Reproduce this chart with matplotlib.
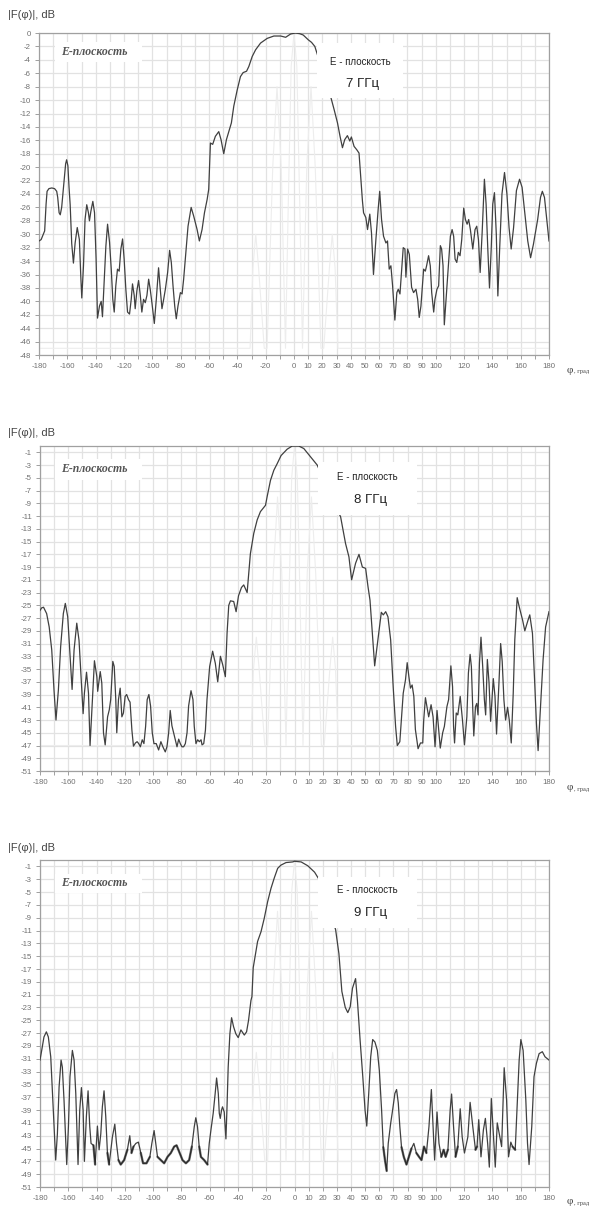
import matplotlib.pyplot as plt
import numpy as np
from matplotlib.patches import Rectangle

W, H = 591, 1207

# ---- measured pattern, 7 GHz
PHI_7 = [-180, -178.5, -177, -176, -175, -174.3, -173, -171, -169, -167.5, -166.8, -165.8, -165,
         -164, -162.5, -161.2, -160.5, -159.6, -158.8, -158, -156.9, -155.7, -154.5, -153, -151.5,
         -150.5, -149.8, -148.6, -147.5, -146.3, -145.1, -144.4, -143.4, -142, -140.8, -139.7,
         -138.7, -137.3, -136.1, -135.2, -134, -132.8, -131.6, -130.2, -129, -127.9, -126.9,
         -125.8, -124.6, -123.4, -122.2, -121, -119.9, -118.7, -117.5, -116.1, -114.9, -114,
         -112.8, -112.1, -110.9, -109.7, -108.5, -107.4, -106.2, -105, -103.8, -102.6, -101.5,
         -100.3, -98.6, -97.2, -95.6, -94.4, -93.2, -92, -90.8, -89.2, -87.8, -86.6, -85.4, -84.2,
         -83.1, -81.9, -80.2, -79, -77.9, -76.7, -74.8, -72.6, -70.8, -68.4, -66.8, -64.9, -63.2,
         -61.3, -60.2, -59, -57.4, -55.5, -53.1, -51.5, -49.6, -47.7, -46, -44.2, -42.5, -40.1,
         -37.8, -35.9, -33.5, -31.9, -29.5, -27.1, -23.6, -18.9, -14.2, -9.4, -5.9, -2.4, 1, 4,
         6.5, 10, 12.4, 14.7, 15.9, 20, 23, 25.9, 28.3, 30.7, 32.5, 34.2, 35.8, 37.7, 39.4, 40.5,
         42.4, 44.3, 45.9, 48.3, 49.1, 50.7, 51.9, 53.5, 54.7, 56.1, 57.8, 59.4, 60.5, 61.8, 63.2,
         64.9, 66, 67.2, 68.4, 69.6, 71.2, 72.6, 73.6, 74.8, 75.9, 77.1, 78.3, 79, 80.2, 81.4, 83,
         84.4, 86.1, 87.3, 88.4, 89.6, 91.5, 92.7, 93.6, 95, 96.2, 97.2, 98.6, 99.5, 100.9, 102.1,
         103.3, 104.2, 105.2, 106.1, 107.8, 109, 110.4, 111.6, 112.7, 113.7, 114.9, 116, 117.2,
         118.4, 119.8, 121, 122.2, 123.3, 124.5, 126.2, 127.8, 129, 130.2, 131.4, 132.8, 134.4,
         135.6, 136.8, 138, 139.2, 140.3, 141.5, 142.8, 143.9, 145.2, 146.8, 148.6, 150.3, 151.8,
         153.3, 155, 157, 159.2, 161, 163, 165, 167, 169, 172, 174, 175.3, 176.8, 178.5, 180]
DB_7 = [-31.0, -30.8, -30.0, -29.5, -25.5, -23.6, -23.2, -23.1, -23.2, -23.6, -24.5, -26.8, -27.1,
        -26.0, -22.5, -19.5, -18.9, -19.8, -23.0, -25.6, -31.4, -34.3, -31.3, -29.0, -30.8,
        -36.3, -39.5, -34.7, -27.8, -25.6, -26.8, -28.0, -26.6, -25.1, -26.8, -33.7,
        -42.5, -40.7, -40.0, -42.3, -37.2, -31.8, -28.5, -31.2, -35.2, -39.7, -41.6,
        -37.7, -35.2, -35.5, -32.2, -30.7, -33.7, -38.2, -41.6, -41.9, -39.7, -37.4,
        -39.1, -41.1, -38.4, -36.9, -39.1, -41.6, -39.7, -40.2, -39.1, -36.7, -38.2,
        -40.2, -43.3, -39.7, -35.0, -38.2, -41.1, -39.7, -38.2, -35.7, -32.4, -34.2, -37.7, -40.7,
        -42.6, -40.7, -38.7, -38.9, -36.7, -33.7, -28.8, -26.0, -27.3, -29.3, -31.0, -29.3, -26.8,
        -24.8, -23.3, -16.4, -16.6, -15.4, -14.7, -15.9, -18.0, -15.9, -14.7, -13.4, -10.9, -8.5,
        -6.5, -5.9, -5.7, -5.0, -3.5, -2.5, -1.5, -0.8, -0.45, -0.45, -0.64, -0.15, 0.0, -0.1,
        -0.3, -1.0, -1.4, -2.0, -2.8, -5.5, -7.5, -9.5, -11.4, -13.4, -15.4, -17.1, -15.9, -15.3, -16.1, -15.5,
        -16.9, -17.4, -17.9, -25.0, -26.8, -27.5, -29.3, -27.0, -29.8, -36.0, -30.8, -26.3, -23.6, -27.8, -30.3,
        -31.3, -31.0, -35.2, -34.7, -37.7, -42.8, -38.7, -38.2, -38.9, -35.7, -32.0, -32.2, -36.4, -32.2, -33.0, -37.9,
        -38.7, -38.2, -39.7, -42.4, -40.7, -35.2, -35.5, -34.7, -33.2, -34.7, -38.7, -41.6, -39.7, -38.2, -37.7,
        -31.7, -32.2, -34.7, -43.5, -38.2, -34.7, -30.3, -29.3, -30.3, -33.7, -34.2, -32.7, -33.2,
        -30.8, -26.1, -27.8, -28.5, -27.8, -29.3, -32.2, -29.3, -28.8, -30.8, -35.7, -29.8, -21.8,
        -25.5, -32.2, -38.0, -32.2, -25.5, -23.8, -30.0, -39.2, -32.0, -24.0, -20.8, -24.0, -29.0,
        -32.2, -29.0, -23.5, -21.8, -23.0, -27.0, -31.0, -33.5, -31.5, -27.8, -24.5, -23.6, -24.5, -28.0, -31.0]

# ---- measured pattern, 8 GHz
PHI_8 = [-180, -178.8, -177.5, -175.3, -173.5, -171.7, -170.1, -168.7, -167, -165.4, -163.5, -162.1,
         -160.4, -159, -157.3, -155.9, -154, -152.4, -150.7, -149.5, -148.6, -147.1, -145.7, -144.6,
         -142.9, -141.5, -139.8, -139.2, -137.4, -136.3, -135.1, -133.9, -132.2, -131, -130, -128.5,
         -127.5, -126.4, -125.7, -124.5, -123.3, -122.1, -121, -119.8, -118.7, -117.4, -116.3, -115,
         -113.9, -112.5, -111.3, -110.2, -109, -107.7, -106.5, -105.3, -104.2, -103, -101.8, -100.6,
         -99.4, -97.8, -96.1, -94.5, -93.1, -91.4, -90.2, -89, -87.9, -86.7, -85.5, -84.3, -83.1,
         -81.9, -80.8, -79.6, -78.4, -77.2, -76, -74.9, -73.2, -71.8, -70.9, -69.7, -68.5, -67.3,
         -66.1, -65.4, -64.2, -63, -61.9, -60, -57.9, -56, -54.3, -52.4, -50.8, -48.9, -47.7, -46.5,
         -45.3, -43, -41.3, -39.6, -37.5, -35.9, -33.5, -31.2, -28.8, -26.4, -24.1, -20.5, -19.4,
         -17, -14.6, -12.3, -9.5, -5.2, -1.6, 3, 6.6, 11.3, 16.1, 20, 25, 29, 32.6, 36.1, 38.5, 40.4,
         43.2, 45.6, 48, 50.3, 52, 53.4, 55.1, 56.7, 58.1, 59.8, 61.4, 62.8, 64.5, 66.1, 68, 69.8,
         71.5, 72.7, 74.5, 75.7, 76.9, 78.5, 79.7, 80.9, 82, 83.2, 84.4, 85.5, 87.4, 89.1, 90.7,
         91.4, 92.6, 93.7, 94.9, 96.6, 98, 99.4, 100.8, 102, 103.1, 104.8, 106, 107.8, 109, 110.6,
         111.8, 112.5, 113.2, 114.4, 115.5, 117.2, 118.8, 120.2, 121.9, 123, 124.2, 125.1, 126.1,
         126.8, 128, 128.9, 129.8, 130.8, 131.9, 133.1, 134.3, 135.2, 136.4, 137.6, 138.7, 140.6,
         141.8, 142.9, 144.6, 145.8, 146.9, 148.1, 149.3, 150.7, 151.9, 153.3, 154.7, 155.8, 157.5,
         158.9, 161.3, 162.9, 165.2, 166.4, 168.3, 169.9, 171.1, 172.3, 173.9, 175.8, 177.6, 180]
DB_8 = [-25.8, -25.4, -25.3, -26.3, -28.4, -32.0, -38.3, -43.0, -38.3, -31.5, -26.3, -24.7,
        -26.8, -32.0, -38.2, -32.0, -27.8, -30.5, -37.3, -42.0, -38.8, -35.5, -38.8, -47.0,
        -39.8, -33.7, -36.2, -38.5, -35.4, -37.2, -45.0, -46.9, -42.5, -41.4, -39.8, -33.8,
        -34.6, -39.8, -45.0, -39.8, -38.0, -42.5, -41.9, -39.3, -39.0, -39.8, -40.2, -44.6,
        -47.1, -46.6, -46.4, -46.7, -47.2, -46.1, -46.7, -44.0, -39.8, -39.0, -40.8, -45.0,
        -46.7, -46.7, -47.7, -46.4, -47.2, -48.0, -47.2, -45.0, -41.5, -43.9, -45.0, -46.1, -47.2,
        -46.0, -46.7, -47.2, -47.2, -46.7, -45.0, -40.8, -38.4, -39.8, -44.0, -46.7, -46.1, -46.4,
        -46.1, -46.9, -46.7, -44.6, -39.8, -34.6, -32.2, -34.1, -37.0, -33.0, -34.3, -36.2, -29.4, -25.0,
        -24.3, -24.4, -26.0, -23.5, -22.2, -21.8, -23.0, -16.9, -13.7, -11.6, -10.3, -9.3, -8.0,
        -5.4, -3.8, -2.8, -1.5, -0.5, 0.0, 0.0, -0.4, -1.7, -3.0, -5.0, -7.5, -9.5, -11.1, -15.3, -17.4, -21.0,
        -18.4, -17.0, -19.0, -19.2, -22.1, -24.2, -29.4, -34.5, -32.0, -28.9, -26.1, -26.5, -26.0, -26.8, -30.4, -37.8,
        -44.0, -47.0, -46.4, -42.5, -38.8, -36.7, -34.0, -36.2, -38.0, -37.5, -39.3, -44.5, -47.5, -46.6, -46.6,
        -43.0, -39.5, -40.9, -42.5, -40.6, -42.5, -47.2, -41.5, -44.5, -47.4, -45.0, -44.0, -40.9, -39.8, -34.5,
        -37.8, -44.0, -46.6, -41.9, -42.2, -39.3, -43.0, -46.9, -42.5, -35.6, -32.7, -34.6, -41.4,
        -45.5, -40.9, -40.4, -42.2, -34.1, -30.0, -34.6, -39.8, -42.2, -33.5, -37.2, -43.2, -36.5,
        -39.3, -45.2, -37.2, -31.0, -33.8, -39.8, -43.0, -41.0, -43.0, -46.6, -38.8, -30.4, -23.8,
        -25.2, -27.3, -29.0, -27.3, -26.5, -29.4, -37.2, -43.5, -47.8, -41.4, -33.6, -28.4, -26.0]

# ---- measured pattern, 9 GHz
PHI_9 = [-180, -178.8, -177.2, -175.5, -174.1, -172.4, -171.3, -169.8, -168.9, -167.7, -166.5, -165.1,
         -164.2, -163, -161.8, -161.1, -159.9, -158.8, -157.1, -155.9, -154.7, -153.6, -153.1, -151.9,
         -150.7, -149.5, -148.6, -147.2, -146, -144.8, -143.9, -142.2, -141, -139.4, -138.2, -137,
         -135.9, -134.7, -133.5, -132.3, -131.1, -128.8, -127.1, -125.9, -124.5, -122.9, -120.5,
         -118.2, -116.5, -115.3, -113.9, -112.2, -110.4, -108.7, -107.1, -104.7, -102.3, -100.9,
         -99.3, -98.1, -96.9, -94.5, -92.2, -89.8, -87.5, -85.1, -83.4, -81.6, -79.2, -76.8, -74.5,
         -72.6, -70.9, -69.8, -68.6, -67.4, -66.2, -63.9, -61.5, -60.3, -59.1, -57.5, -56.1, -55.1,
         -53.9, -53.2, -52.5, -51.6, -50.9, -49.7, -48.5, -47.8, -46.9, -45.7, -44.5, -43.1, -41.5,
         -39.8, -37.9, -35.5, -33.9, -32.5, -30.8, -30.1, -29.2, -27.7, -26.1, -23.7, -21.4, -19,
         -16.6, -14.3, -11.9, -9.6, -6, -1.3, 0, 4.7, 9.4, 14.2, 17, 22, 26, 29.1, 31.4, 33.5, 35.9,
         37.7, 39.4, 41, 43.2, 44.5, 46.4, 48.3, 49.9, 51.1, 52.5, 53.9, 55.3, 56.9, 58.6, 60, 61.6,
         62.8, 64, 65.2, 66.3, 68, 69.4, 71, 72.2, 73.4, 74.5, 75.7, 77.3, 79.2, 80.9, 82.7, 84.4,
         86.2, 88.1, 89.8, 91.6, 93.3, 95.1, 96.8, 98, 99.1, 100.8, 102.2, 103.8, 105.5, 106.9,
         108.5, 110.1, 111.1, 112.5, 113.9, 115.5, 117.2, 118.6, 120.2, 122.6, 124.2, 126.1, 128,
         129.1, 130.3, 131.9, 133.6, 135, 136.6, 137.8, 139.2, 140.6, 142, 143.4, 144.8, 146.5,
         148.3, 150, 151.4, 153, 154.2, 156.1, 157.7, 158.9, 160.1, 161.7, 163.6, 164.8, 165.9,
         167.8, 169.4, 171.1, 173, 175.3, 177.2, 180]
DB_9 = [-31.2, -29.7, -27.6, -26.8, -27.6, -30.7, -35.9, -42.7, -46.8, -42.7, -35.4, -31.2,
        -32.3, -37.5, -43.7, -47.5, -41.6, -33.8, -29.7, -31.2, -36.4, -43.7, -47.5, -39.0,
        -35.5, -39.0, -47.0, -40.0, -36.0, -41.6, -44.2, -44.5, -47.5, -41.5, -45.2, -42.7,
        -38.5, -36.0, -40.0, -45.7, -47.5, -43.2, -41.2, -44.2, -46.8, -47.5, -46.8,
        -45.2, -43.0, -45.7, -44.7, -44.2, -44.0, -45.7, -47.3, -47.3, -46.3, -44.2,
        -42.2, -44.2, -46.3, -46.8, -47.3, -46.3, -45.7, -44.7, -44.5, -45.5, -46.8, -47.3, -46.8,
        -44.7, -41.6, -40.2, -41.6, -44.7, -46.3, -46.8, -47.5, -44.2, -42.1, -39.5, -36.4, -34.0,
        -36.4, -39.5, -40.3, -39.0, -38.5, -39.3, -43.5, -39.0, -32.3, -27.1, -24.6, -26.0, -27.1,
        -27.7, -26.5, -27.3, -26.8, -25.0, -21.9, -21.3, -16.8, -14.8, -12.7, -11.2, -9.1, -6.5,
        -4.4, -2.8, -1.3, -0.8, -0.4, -0.3, -0.2, -0.3, -0.9, -1.9, -2.9, -5.5, -8.5, -10.9, -14.6, -20.5, -23.0,
        -23.8, -22.9, -20.0, -18.5, -21.9, -28.1, -33.8, -39.0, -41.5, -36.4, -30.7, -28.0, -28.4, -29.7, -32.8, -39.0,
        -44.8, -46.8, -48.5, -44.2, -41.1, -39.0, -36.4, -35.8, -37.9, -41.6, -44.8, -46.3, -47.5, -46.3, -45.0, -44.2,
        -45.7, -46.3, -46.8, -44.7, -45.7, -41.6, -35.8, -41.6, -46.8, -39.3, -44.2, -46.3, -45.2, -46.3,
        -45.2, -39.0, -36.5, -41.6, -46.3, -44.7, -38.8, -43.2, -45.7, -43.2, -37.8, -41.6, -45.2,
        -44.7, -40.5, -46.3, -42.1, -40.3, -44.2, -47.9, -37.2, -42.7, -47.9, -41.0, -42.7, -44.7,
        -32.4, -37.4, -46.3, -44.0, -44.7, -45.2, -37.4, -31.2, -28.0, -29.7, -37.4, -44.2, -47.5,
        -41.6, -33.8, -31.7, -30.2, -29.9, -30.7, -31.2]

# ---- faint calculated pattern (barely visible behind the measurement)
FAINT_PHI = [-180, -31, -29, -27, -25, -21, -19, -15, -12, -9, -6, -4, -2, 0,
             2, 4, 6, 9, 12, 15, 19, 21, 25, 27, 29, 31, 180]
FAINT_DB = [-47, -47, -35, -30, -35, -47, -47, -20, -8, -20, -47, -25, -5, 0,
            -5, -25, -47, -20, -8, -20, -47, -47, -35, -30, -35, -47, -47]

X_TICKS = list(range(-180, 181, 10))
X_LABELED = [-180, -160, -140, -120, -100, -80, -60, -40, -20, 0, 10, 20, 30, 40, 50,
             60, 70, 80, 90, 100, 120, 140, 160, 180]
Y_TICKS_7 = list(range(0, -49, -2))
Y_TICKS_89 = list(range(-1, -52, -2))
FREQS = ["7 ГГц", "8 ГГц", "9 ГГц"]

plt.rcParams['font.family'] = ['Liberation Sans', 'DejaVu Sans']

fig = plt.figure(figsize=(W / 100, H / 100), dpi=100)


def fx(x):
    return x / W


def fy(y):
    return 1 - y / H


# (left, right, top, bottom) of each plot box in pixels, plus text anchors
panels = [
    dict(box=(39, 549, 33, 355), phi=PHI_7, db=DB_7, ymin=-48, yticks=Y_TICKS_7,
         ylab_y=15, xlab_y=371, b1=(42, 62), b2=(317, 403, 43, 98), t1=62, t2=84),
    dict(box=(40, 549, 446, 771), phi=PHI_8, db=DB_8, ymin=-51, yticks=Y_TICKS_89,
         ylab_y=433, xlab_y=788, b1=(459, 480), b2=(318, 417, 462, 515), t1=477, t2=500),
    dict(box=(40, 549, 860, 1187), phi=PHI_9, db=DB_9, ymin=-51, yticks=Y_TICKS_89,
         ylab_y=848, xlab_y=1202, b1=(874, 893), b2=(318, 417, 877, 928), t1=890, t2=913),
]

for i, p in enumerate(panels):
    l, r, t, b = p["box"]
    ax = fig.add_axes([fx(l), fy(b), (r - l) / W, (b - t) / H])

    ax.plot(FAINT_PHI, FAINT_DB, color='#ededed', lw=0.8, zorder=2)
    ax.plot(p["phi"], p["db"], color='#404040', lw=0.9, zorder=3)
    if i == 2:
        # noisy floor of the 9 GHz trace drawn heavier
        db = np.array(p["db"])
        ax.plot(p["phi"], np.ma.masked_where(db > -44.5, db), color='#1a1a1a',
                lw=1.7, alpha=0.6, solid_capstyle='round', solid_joinstyle='round',
                zorder=3)

    ax.set_xlim(-180, 180)
    ax.set_ylim(p["ymin"], 0)
    ax.set_xticks(X_TICKS)
    ax.set_xticklabels([str(v) if v in X_LABELED else '' for v in X_TICKS])
    ax.set_yticks(p["yticks"])
    ax.set_yticklabels([str(v) for v in p["yticks"]])
    ax.grid(True, color='#e2e2e2', lw=0.9)
    ax.set_axisbelow(True)
    for s in ax.spines.values():
        s.set_color('#a0a0a0')
        s.set_linewidth(0.9)
    ax.tick_params(labelsize=5.6, labelcolor='#707070', color='#a0a0a0',
                   length=2.8, width=0.7, pad=3)

    ax.text(fx(8), fy(p["ylab_y"]), "|F(φ)|, dB", transform=fig.transFigure,
            fontsize=8, color='#444444', ha='left', va='center')
    ax.text(fx(567), fy(p["xlab_y"]), "φ", transform=fig.transFigure,
            family='Liberation Serif', fontsize=8, color='#444444', ha='left', va='center')
    ax.text(fx(574), fy(p["xlab_y"] + 1), ", град", transform=fig.transFigure,
            family='Liberation Serif', fontsize=4.5, color='#444444', ha='left', va='center')

    y0, y1 = p["b1"]
    ax.add_patch(Rectangle((fx(55), fy(y1)), (142 - 55) / W, (y1 - y0) / H,
                           transform=fig.transFigure, facecolor='white',
                           edgecolor='none', zorder=5, clip_on=False))
    ax.text(fx(94), fy((y0 + y1) / 2), "E-плоскость", transform=fig.transFigure,
            family='Liberation Serif', style='italic', weight='bold', fontsize=8.5,
            color='#555555', ha='center', va='center', zorder=6)

    bx0, bx1, by0, by1 = p["b2"]
    ax.add_patch(Rectangle((fx(bx0), fy(by1)), (bx1 - bx0) / W, (by1 - by0) / H,
                           transform=fig.transFigure, facecolor='white',
                           edgecolor='none', zorder=5, clip_on=False))
    cx = (bx0 + bx1) / 2
    ax.text(fx(cx), fy(p["t1"]), "E - плоскость", transform=fig.transFigure,
            fontsize=7, color='#222222', ha='center', va='center', zorder=6)
    ax.text(fx(cx + 3), fy(p["t2"]), FREQS[i], transform=fig.transFigure,
            fontsize=9.5, color='#222222', ha='center', va='center', zorder=6)

fig.savefig("out.png", dpi=100)
